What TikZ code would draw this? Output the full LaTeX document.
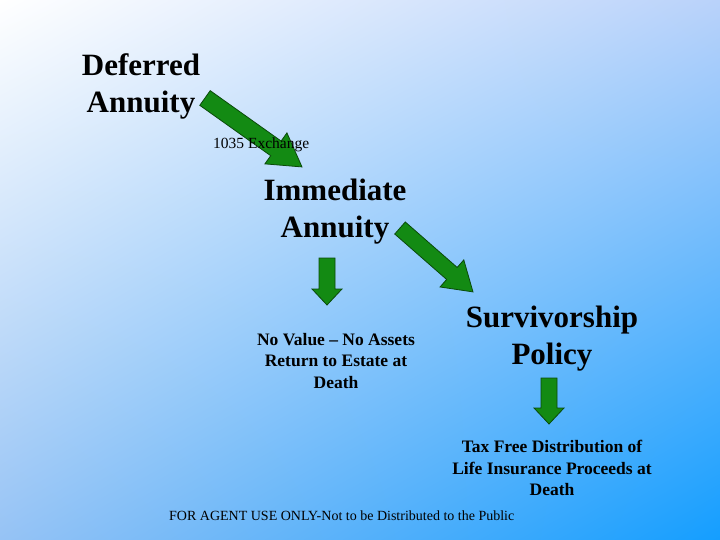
\documentclass[tikz,border=0pt]{standalone}
\usepackage{fontspec}
\setmainfont{Liberation Serif}
\usetikzlibrary{shadings}
\definecolor{arrgreen}{HTML}{138A13}
\definecolor{arrline}{HTML}{0A4A0A}
\definecolor{bgur}{RGB}{185,210,250}
\definecolor{bgll}{RGB}{150,195,245}
\definecolor{bglr}{RGB}{20,158,255}
\newcommand{\blockarrow}[7]{%
  \begin{scope}[shift={(#1,#2)},rotate=#3]
    \fill[arrgreen,draw=arrline,line width=0.8pt] (0,#5) -- ({#4-#7},#5) -- ({#4-#7},#6) -- (#4,0) -- ({#4-#7},-#6) -- ({#4-#7},-#5) -- (0,-#5) -- cycle;
  \end{scope}}
\begin{document}
\begin{tikzpicture}[x=1pt,y=-1pt,
  big/.style={font=\fontsize{31}{37}\selectfont\bfseries,align=center,inner sep=0},
  small/.style={font=\fontsize{17.5}{21.5}\selectfont\bfseries,align=center,inner sep=0},
  plain/.style={font=\fontsize{14}{16}\selectfont,inner sep=0}]
\useasboundingbox (0,0) rectangle (720,540);
\shade[upper left=white,upper right=bgur,lower left=bgll,lower right=bglr] (0,0) rectangle (720,540);
\node[big] (def) at (141,86) {Deferred\\Annuity};
\node[big] (imm) at (335,212) {Immediate\\Annuity};
\node[big] (surv) at (552,339) {Survivorship\\Policy};
\node[small] (noval) at (336,361) {No Value -- No Assets\\Return to Estate at\\Death};
\node[small] (tax) at (552,468) {Tax Free Distribution of\\Life Insurance Proceeds at\\Death};
\blockarrow{205}{98}{-35.4}{119}{9}{19}{32}
\node[plain,anchor=west,font=\fontsize{15.5}{17}\selectfont] (ex) at (213,145) {1035 Exchange};
\blockarrow{400}{228}{-41.2}{97}{8}{18}{28}
\blockarrow{327}{258}{-90}{47}{8}{15}{16}
\blockarrow{549}{378}{-90}{46}{8}{15}{16}
\node[plain,anchor=west] (foot) at (169,516) {FOR AGENT USE ONLY-Not to be Distributed to the Public};
\end{tikzpicture}
\end{document}
